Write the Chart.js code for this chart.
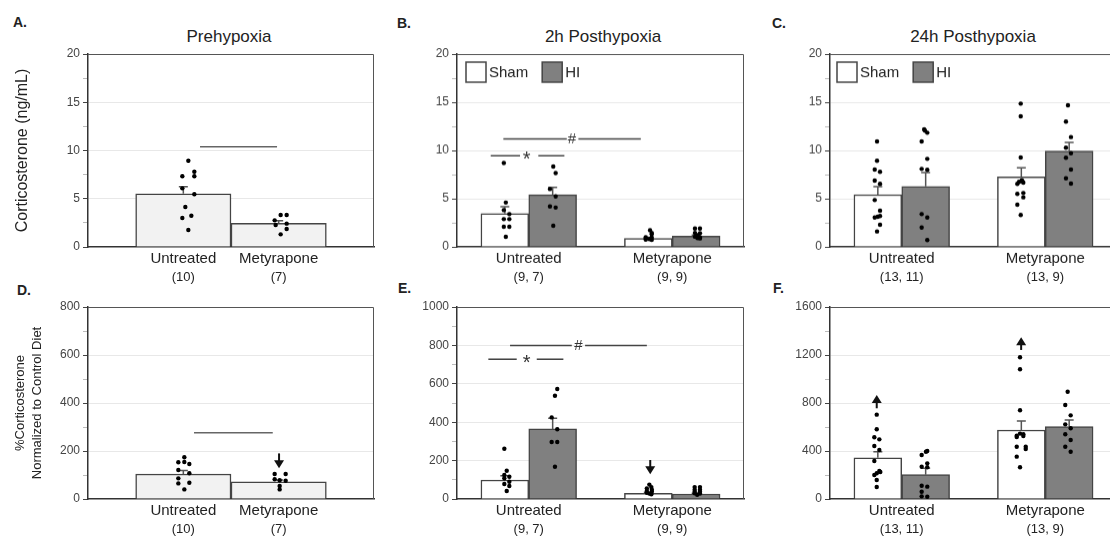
<!DOCTYPE html>
<html>
<head>
<meta charset="utf-8">
<script src="https://cdn.jsdelivr.net/npm/chart.js@4.4.1/dist/chart.umd.min.js"></script>
<style>
  html, body { margin: 0; padding: 0; background: #fff; overflow: hidden; width: 1110px; height: 539px; position: relative; font-family: "Liberation Sans", Arial, sans-serif; color: #222; }
  canvas { position: absolute; }
  .lbl { position: absolute; font-weight: bold; font-size: 14px; line-height: 14px; }
  .ttl { position: absolute; font-size: 17px; line-height: 17px; width: 220px; text-align: center; }
</style>
</head>
<body>
<div class="lbl" style="left:13px;top:15px">A.</div>
<div class="lbl" style="left:397px;top:16px">B.</div>
<div class="lbl" style="left:772px;top:16px">C.</div>
<div class="lbl" style="left:17px;top:283px">D.</div>
<div class="lbl" style="left:398px;top:281px">E.</div>
<div class="lbl" style="left:773px;top:281px">F.</div>
<div class="ttl" style="left:119px;top:28px">Prehypoxia</div>
<div class="ttl" style="left:493px;top:28px">2h Posthypoxia</div>
<div class="ttl" style="left:863px;top:28px">24h Posthypoxia</div>
<canvas id="cA"></canvas>
<canvas id="cB"></canvas>
<canvas id="cC"></canvas>
<canvas id="cD"></canvas>
<canvas id="cE"></canvas>
<canvas id="cF"></canvas>
<script>
const groups = ['Untreated', 'Metyrapone'];
const nPre = ['(10)', '(7)'];
const n2h = ['(9, 7)', '(9, 9)'];
const n24h = ['(13, 11)', '(13, 9)'];

// corticosterone ng/mL
const preMean = [5.52, 2.45];
const preSem = [0.73, 0.28];
const preUntreated = [8.94, 7.8, 7.33, 7.33, 6.08, 5.46, 4.14, 3.24, 3.0, 1.76];
const preMetyrapone = [3.32, 3.32, 2.76, 2.42, 2.28, 1.87, 1.31];

const h2ShamMean = [3.46, 0.87];
const h2ShamSem = [0.7, 0.12];
const h2HiMean = [5.4, 1.11];
const h2HiSem = [0.76, 0.12];
const h2ShamUntreated = [8.7, 4.6, 3.81, 3.4, 2.88, 2.88, 2.08, 2.08, 1.04];
const h2ShamMetyrapone = [1.73, 1.45, 1.32, 1.0, 0.97, 0.85, 0.8, 0.75, 0.73];
const h2HiUntreated = [8.34, 7.66, 6.0, 5.23, 4.19, 4.08, 2.18];
const h2HiMetyrapone = [1.9, 1.9, 1.45, 1.42, 1.2, 1.05, 1.0, 0.9, 0.87];

const h24ShamMean = [5.42, 7.26];
const h24ShamSem = [0.83, 0.94];
const h24HiMean = [6.28, 9.93];
const h24HiSem = [1.43, 0.9];
const h24ShamUntreated = [10.94, 8.93, 8.02, 7.78, 6.87, 6.53, 4.86, 3.75, 3.2, 3.12, 3.05, 2.29, 1.6];
const h24ShamMetyrapone = [14.86, 13.54, 9.27, 6.9, 6.8, 6.74, 6.67, 6.53, 5.59, 5.49, 5.14, 4.38, 3.3];
const h24HiUntreated = [12.2, 12.05, 11.84, 10.94, 9.13, 8.09, 7.99, 3.4, 3.05, 2.01, 0.7];
const h24HiMetyrapone = [14.69, 12.99, 11.39, 10.28, 9.72, 9.24, 8.02, 7.11, 6.56];

// % corticosterone normalized to control diet
const pctPreMean = [104, 72];
const pctPreSem = [15, 7];
const pctPreUntreated = [174, 154, 153, 146, 121, 107, 86, 68, 65, 40];
const pctPreMetyrapone = [104, 104, 82, 78, 76, 54, 40];

const pct2hShamMean = [99, 30];
const pct2hShamSem = [22, 5];
const pct2hHiMean = [365, 26];
const pct2hHiSem = [55, 4];
const pct2hShamUntreated = [262, 147, 125, 116, 108, 90, 78, 68, 42];
const pct2hShamMetyrapone = [75, 62, 55, 48, 42, 38, 32, 28, 25];
const pct2hHiUntreated = [573, 538, 425, 363, 297, 297, 168];
const pct2hHiMetyrapone = [62, 62, 48, 48, 38, 38, 30, 28, 22];

const pct24hShamMean = [344, 575];
const pct24hShamSem = [50, 75];
const pct24hHiMean = [203, 603];
const pct24hHiSem = [53, 55];
const pct24hShamUntreated = [703, 581, 514, 497, 442, 408, 317, 233, 225, 214, 200, 158, 100];
const pct24hShamMetyrapone = [1181, 1081, 739, 545, 540, 528, 525, 516, 436, 436, 417, 353, 264];
const pct24hHiUntreated = [400, 394, 367, 297, 269, 264, 111, 103, 61, 22, 19];
const pct24hHiMetyrapone = [894, 783, 697, 622, 589, 539, 492, 436, 394];

// horizontal scatter of the dots, px from bar centre
const jitPreU = [5, 11, 11, -1, -1, 11, 2, 8, -1, 5];
const jitPreM = [2, 8, -4, 8, -3, 8, 2];
const jit2hSU = [-1, 1, -1, 4.5, -1, 4.5, -1, 4.5, 1];
const jit2hSM = [1.7, 3.4, 3.4, -2.6, 3.4, -2.6, 1, -2.6, 3.4];
const jit2hHU = [0.6, 3, -2.7, 3, -2.7, 3, 0.6];
const jit2hHM = [-1.2, 3.8, -1.2, 3.8, 1.3, -1.2, 3.8, 1.3, 3.8];
const jit24SU = [-0.8, -0.8, -3.1, 2.2, -3.1, 2.2, -3.1, 2.2, 2.2, -0.1, -3.1, 2.2, -0.8];
const jit24SM = [-0.6, -0.6, -0.6, 0.5, 1, -2.3, 2, -4, 2, -4, 2, -4, -0.6];
const jit24HU = [-1.5, -0.7, 1.6, -4, 1.6, -4, 1.6, -4, 1.6, -4, 1.6];
const jit24HM = [-1.2, -3.2, 1.8, -3.2, 1.8, -3.2, 1.8, -3.2, 1.8];
const jitPctPreU = [1, 1, -5, 6, -5, 6, -5, 6, -5, 1];
const jitPctPreM = [-4, 7, -4, 1, 7, 1, 1];
const jitPct2hSU = [-0.5, 1.9, -0.5, 4.5, -0.5, 4.5, -0.5, 4.5, 1.9];
const jitPct2hSM = [1, 3, -1.5, 3.5, -1.5, 3.5, -1.5, 1, 3];
const jitPct2hHU = [4.6, 2.3, -1, 4.6, -1, 4.6, 2.3];
const jitPct2hHM = [-1.5, 3.8, -1.5, 3.8, -1.5, 3.8, -1.5, 3.8, 1];
const jitPct24SU = [-1.1, -1.1, -3.5, 1.5, -3.5, 1.5, -3.5, 1.5, 2.5, -1.1, -3.5, -1.1, -1.1];
const jitPct24SM = [-1.3, -1.3, -1.3, -1.3, 2, -4.6, 2, -4.6, -4.6, 4.4, 4.4, -4.6, -1.3];
const jitPct24HU = [1.6, 0.3, -4, 1.6, -4, 1.6, -4, 1.6, -4, -4, 1.6];
const jitPct24HM = [-1.5, -3.9, 1.5, -3.9, 1.5, -3.9, 1.5, -3.9, 1.5];

const FONT = '"Liberation Sans", Arial, sans-serif';
Chart.defaults.font.family = FONT;
Chart.defaults.color = '#333';

const SHAM = '#ffffff';
const HI = '#808080';
const PLAIN = '#f2f2f2';
const PAD_T = 12, PAD_R = 14, PAD_B = 4, X_H = 22, N_H = 18;

// error bars right after each bar dataset so dots sit on top
const errorBars = {
  id: 'errorBars',
  afterDatasetDraw(chart, args) {
    const ds = chart.data.datasets[args.index];
    if (!ds.sem) return;
    const ys = chart.scales.y;
    const ctx = chart.ctx;
    ctx.save();
    ctx.strokeStyle = '#555';
    ctx.lineWidth = 1.5;
    args.meta.data.forEach((bar, i) => {
      const top = ys.getPixelForValue(ds.data[i].y + ds.sem[i]);
      ctx.beginPath();
      ctx.moveTo(bar.x, bar.y);
      ctx.lineTo(bar.x, top);
      ctx.moveTo(bar.x - 4.5, top);
      ctx.lineTo(bar.x + 4.5, top);
      ctx.stroke();
    });
    ctx.restore();
  }
};

const frame = {
  id: 'frame',
  afterDraw(chart) {
    const a = chart.chartArea;
    const ctx = chart.ctx;
    ctx.save();
    ctx.strokeStyle = '#555';
    ctx.lineWidth = 1;
    ctx.beginPath();
    ctx.moveTo(a.left, a.top + 0.5);
    ctx.lineTo(a.right - 0.5, a.top + 0.5);
    ctx.lineTo(a.right - 0.5, a.bottom);
    ctx.stroke();
    ctx.restore();
  }
};

const boxLegend = {
  id: 'boxLegend',
  afterDraw(chart, args, opts) {
    if (!opts.show) return;
    const ctx = chart.ctx;
    const a = chart.chartArea;
    let x = a.left + opts.dx;
    const y = a.top + opts.dy;
    ctx.save();
    ctx.font = '15px ' + FONT;
    ctx.textBaseline = 'middle';
    chart.data.datasets.filter(d => d.type === 'bar').forEach(d => {
      ctx.fillStyle = d.backgroundColor;
      ctx.fillRect(x, y, 20, 20);
      ctx.strokeStyle = '#444';
      ctx.lineWidth = 1.5;
      ctx.strokeRect(x, y, 20, 20);
      ctx.fillStyle = '#222';
      ctx.fillText(d.label, x + 23, y + 11);
      x += 23 + ctx.measureText(d.label).width + 14;
    });
    ctx.restore();
  }
};

const marks = {
  id: 'marks',
  afterDatasetsDraw(chart, args, opts) {
    const ctx = chart.ctx;
    const xs = chart.scales.x;
    const ys = chart.scales.y;
    ctx.save();
    (opts.lines || []).forEach(l => {
      const y = ys.getPixelForValue(l.y);
      ctx.strokeStyle = l.mark ? '#444' : '#666';
      ctx.lineWidth = 1.5;
      l.segs.forEach(([a, b]) => {
        ctx.beginPath();
        ctx.moveTo(xs.getPixelForValue(a), y);
        ctx.lineTo(xs.getPixelForValue(b), y);
        ctx.stroke();
      });
      if (l.mark) {
        ctx.fillStyle = '#333';
        ctx.textAlign = 'center';
        ctx.textBaseline = 'middle';
        ctx.font = (l.mark === '*' ? '20px ' : '15px ') + FONT;
        ctx.fillText(l.mark, xs.getPixelForValue(l.at), y + (l.mark === '*' ? 4 : 0));
      }
    });
    (opts.arrows || []).forEach(ar => {
      const x = xs.getPixelForValue(ar.x);
      const y1 = ys.getPixelForValue(ar.from);
      const y2 = ys.getPixelForValue(ar.to);
      const dir = y2 > y1 ? 1 : -1;
      ctx.strokeStyle = '#111';
      ctx.fillStyle = '#111';
      ctx.lineWidth = 2;
      ctx.beginPath();
      ctx.moveTo(x, y1);
      ctx.lineTo(x, y2 - dir * 6);
      ctx.stroke();
      ctx.beginPath();
      ctx.moveTo(x, y2);
      ctx.lineTo(x - 5, y2 - dir * 8);
      ctx.lineTo(x + 5, y2 - dir * 8);
      ctx.closePath();
      ctx.fill();
    });
    ctx.restore();
  }
};

function buildPanel(p) {
  const canvas = document.getElementById(p.id);
  const yW = p.area.left - p.left;
  const w = yW + (p.area.right - p.area.left) + PAD_R;
  const h = PAD_T + (p.area.bottom - p.area.top) + X_H + N_H + PAD_B;
  canvas.width = w;
  canvas.height = h;
  canvas.style.left = p.left + 'px';
  canvas.style.top = (p.area.top - PAD_T) + 'px';
  canvas.style.width = w + 'px';
  canvas.style.height = h + 'px';
  const unitPx = (p.area.right - p.area.left) / p.xMax;

  const datasets = p.bars.map(b => ({
    type: 'bar',
    label: b.label,
    data: b.x.map((x, i) => ({ x: x, y: b.mean[i] })),
    sem: b.sem,
    backgroundColor: b.color,
    borderColor: '#444',
    borderWidth: 1.5,
    grouped: false,
    categoryPercentage: 1,
    barPercentage: 1,
    order: 1,
  }));
  const dots = [];
  p.bars.forEach(b => b.x.forEach((x, i) => {
    b.dots[i].forEach((v, j) => dots.push({ x: x + b.jit[i][j] / unitPx, y: v }));
  }));
  datasets.push({
    type: 'scatter',
    label: 'dots',
    data: dots,
    pointRadius: 2.2,
    pointBackgroundColor: '#000',
    pointBorderWidth: 0,
    showLine: false,
    order: 0,
  });

  const groupTicks = s => { s.ticks = p.groupX.map(v => ({ value: v })); };
  const isMajor = v => Math.abs(v / p.yMajor - Math.round(v / p.yMajor)) < 1e-6;

  return new Chart(canvas, {
    type: 'bar',
    data: { datasets: datasets },
    options: {
      responsive: false,
      animation: false,
      layout: { padding: { top: PAD_T, right: PAD_R, bottom: PAD_B, left: 0 } },
      plugins: {
        legend: { display: false },
        tooltip: { enabled: false },
        boxLegend: p.legend || { show: false },
        marks: p.marks || {},
      },
      scales: {
        x: {
          type: 'linear',
          position: 'bottom',
          offset: false,
          min: 0,
          max: p.xMax,
          weight: 0,
          afterBuildTicks: groupTicks,
          afterFit: s => { s.height = X_H; },
          grid: { display: false, drawTicks: false, offset: false },
          border: { display: true, color: '#333', width: 1.5 },
          ticks: {
            autoSkip: false,
            maxRotation: 0,
            padding: 3,
            color: '#222',
            font: { size: 15 },
            callback: (v, i) => groups[i],
          },
        },
        x2: {
          type: 'linear',
          position: 'bottom',
          offset: false,
          min: 0,
          max: p.xMax,
          weight: 1,
          afterBuildTicks: groupTicks,
          afterFit: s => { s.height = N_H; },
          grid: { display: false, drawTicks: false, offset: false },
          border: { display: false },
          ticks: {
            autoSkip: false,
            maxRotation: 0,
            padding: 1,
            color: '#222',
            font: { size: 13 },
            callback: (v, i) => p.nLabels[i],
          },
        },
        y: {
          min: 0,
          max: p.yMax,
          afterFit: s => { s.width = yW; },
          border: { display: true, color: '#333', width: 1.5 },
          grid: {
            tickLength: 5,
            color: c => (c.tick && isMajor(c.tick.value) && c.tick.value > 0 && c.tick.value < p.yMax) ? '#e8e8e8' : 'rgba(0,0,0,0)',
            tickColor: c => (c.tick && isMajor(c.tick.value)) ? '#444' : '#bbb',
          },
          ticks: {
            stepSize: p.yStep,
            padding: 3,
            color: '#444',
            font: { size: 12 },
            callback: v => isMajor(v) ? v : '',
          },
          title: p.yTitle ? {
            display: true,
            text: p.yTitle.text,
            color: '#222',
            font: { size: p.yTitle.size, lineHeight: p.yTitle.lh },
            padding: { top: p.yTitle.pad, bottom: 0 },
          } : { display: false },
        },
      },
    },
    plugins: [errorBars, frame, boxLegend, marks],
  });
}

const panels = [
  {
    id: 'cA', left: 0, area: { left: 88, top: 54, right: 374, bottom: 247 },
    xMax: 3, groupX: [1, 2], nLabels: nPre,
    yMax: 20, yStep: 2.5, yMajor: 5,
    yTitle: { text: 'Corticosterone (ng/mL)', size: 16, lh: 1.2, pad: 13 },
    bars: [{ label: 'All', x: [1, 2], mean: preMean, sem: preSem, dots: [preUntreated, preMetyrapone], jit: [jitPreU, jitPreM], color: PLAIN }],
    marks: { lines: [{ segs: [[1.175, 1.983]], y: 10.4 }] },
  },
  {
    id: 'cB', left: 400, area: { left: 457, top: 54, right: 744, bottom: 246.5 },
    xMax: 6, groupX: [1.5, 4.5], nLabels: n2h,
    yMax: 20, yStep: 2.5, yMajor: 5,
    bars: [
      { label: 'Sham', x: [1, 4], mean: h2ShamMean, sem: h2ShamSem, dots: [h2ShamUntreated, h2ShamMetyrapone], jit: [jit2hSU, jit2hSM], color: SHAM },
      { label: 'HI', x: [2, 5], mean: h2HiMean, sem: h2HiSem, dots: [h2HiUntreated, h2HiMetyrapone], jit: [jit2hHU, jit2hHM], color: HI },
    ],
    legend: { show: true, dx: 9, dy: 8 },
    marks: { lines: [
      { segs: [[0.705, 1.318], [1.70, 2.245]], y: 9.45, mark: '*', at: 1.458 },
      { segs: [[0.969, 2.295], [2.538, 3.843]], y: 11.19, mark: '#', at: 2.40 },
    ] },
  },
  {
    id: 'cC', left: 775, area: { left: 830, top: 54, right: 1117, bottom: 246.5 },
    xMax: 6, groupX: [1.5, 4.5], nLabels: n24h,
    yMax: 20, yStep: 2.5, yMajor: 5,
    bars: [
      { label: 'Sham', x: [1, 4], mean: h24ShamMean, sem: h24ShamSem, dots: [h24ShamUntreated, h24ShamMetyrapone], jit: [jit24SU, jit24SM], color: SHAM },
      { label: 'HI', x: [2, 5], mean: h24HiMean, sem: h24HiSem, dots: [h24HiUntreated, h24HiMetyrapone], jit: [jit24HU, jit24HM], color: HI },
    ],
    legend: { show: true, dx: 7, dy: 8 },
  },
  {
    id: 'cD', left: 0, area: { left: 88, top: 307, right: 374, bottom: 499 },
    xMax: 3, groupX: [1, 2], nLabels: nPre,
    yMax: 800, yStep: 100, yMajor: 200,
    yTitle: { text: ['%Corticosterone', 'Normalized to Control Diet'], size: 13, lh: 1.3, pad: 12 },
    bars: [{ label: 'All', x: [1, 2], mean: pctPreMean, sem: pctPreSem, dots: [pctPreUntreated, pctPreMetyrapone], jit: [jitPctPreU, jitPctPreM], color: PLAIN }],
    marks: {
      lines: [{ segs: [[1.112, 1.938]], y: 276 }],
      arrows: [{ x: 2.004, from: 190, to: 128 }],
    },
  },
  {
    id: 'cE', left: 400, area: { left: 457, top: 307, right: 744, bottom: 499 },
    xMax: 6, groupX: [1.5, 4.5], nLabels: n2h,
    yMax: 1000, yStep: 100, yMajor: 200,
    bars: [
      { label: 'Sham', x: [1, 4], mean: pct2hShamMean, sem: pct2hShamSem, dots: [pct2hShamUntreated, pct2hShamMetyrapone], jit: [jitPct2hSU, jitPct2hSM], color: SHAM },
      { label: 'HI', x: [2, 5], mean: pct2hHiMean, sem: pct2hHiSem, dots: [pct2hHiUntreated, pct2hHiMetyrapone], jit: [jitPct2hHU, jitPct2hHM], color: HI },
    ],
    marks: {
      lines: [
        { segs: [[0.655, 1.249], [1.667, 2.224]], y: 728, mark: '*', at: 1.458 },
        { segs: [[1.109, 2.4], [2.678, 3.969]], y: 799, mark: '#', at: 2.538 },
      ],
      arrows: [{ x: 4.04, from: 203, to: 129 }],
    },
  },
  {
    id: 'cF', left: 775, area: { left: 830, top: 307, right: 1117, bottom: 499 },
    xMax: 6, groupX: [1.5, 4.5], nLabels: n24h,
    yMax: 1600, yStep: 200, yMajor: 400,
    bars: [
      { label: 'Sham', x: [1, 4], mean: pct24hShamMean, sem: pct24hShamSem, dots: [pct24hShamUntreated, pct24hShamMetyrapone], jit: [jitPct24SU, jitPct24SM], color: SHAM },
      { label: 'HI', x: [2, 5], mean: pct24hHiMean, sem: pct24hHiSem, dots: [pct24hHiUntreated, pct24hHiMetyrapone], jit: [jitPct24HU, jitPct24HM], color: HI },
    ],
    marks: {
      arrows: [{ x: 0.977, from: 756, to: 867 }, { x: 3.996, from: 1242, to: 1347 }],
    },
  },
];

panels.forEach(buildPanel);
</script>
</body>
</html>
